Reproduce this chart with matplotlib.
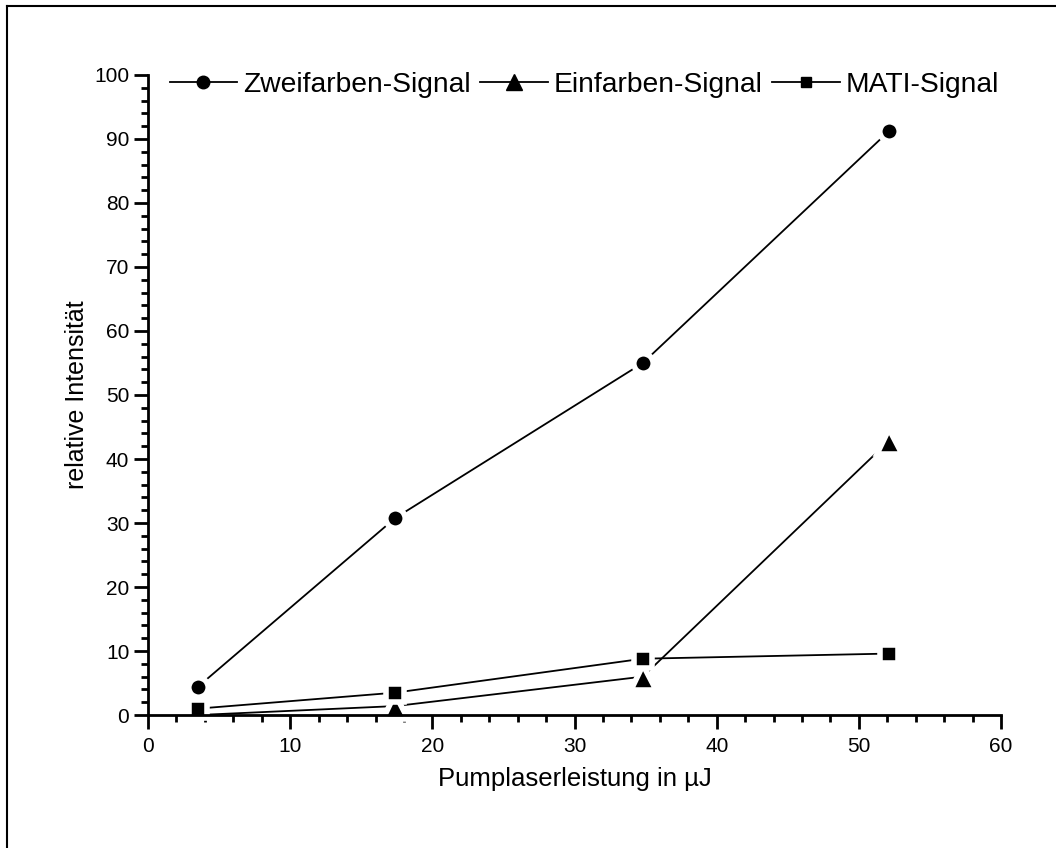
import matplotlib
matplotlib.use("Agg")
import matplotlib.pyplot as plt
from matplotlib.ticker import MultipleLocator
from matplotlib.lines import Line2D

plt.rcParams['font.family'] = ['Liberation Sans', 'DejaVu Sans']

x_vals = [3.5, 17.4, 34.8, 52.1]
zweifarben = [4.4, 30.8, 55.0, 91.2]
einfarben = [0.0, 1.4, 6.0, 42.8]
mati = [1.0, 3.5, 8.8, 9.6]
labels = ["Zweifarben-Signal", "Einfarben-Signal", "MATI-Signal"]

fig = plt.figure(figsize=(10.56, 8.48), dpi=100)
ax = fig.add_axes([0.1402, 0.1568, 0.8078, 0.7548])

styles = [
    (zweifarben, 'o', 10, 9, None),
    (einfarben, '^', 14, 12, [1, 2, 3]),
    (mati, 's', 8.5, 6.5, None),
]
handles = []
for (vals, m, ms, lms, every), lab in zip(styles, labels):
    ax.plot(x_vals, vals, color='black', lw=1.3, marker=m, ms=ms + 4,
            mfc='black', mec='white', mew=4, zorder=3, clip_on=False,
            markevery=every)
    handles.append(Line2D([], [], color='black', lw=1.3, marker=m, ms=lms,
                          mfc='black', mec='black'))

ax.set_xlim(0, 60)
ax.set_ylim(0, 100)
ax.xaxis.set_major_locator(MultipleLocator(10))
ax.xaxis.set_minor_locator(MultipleLocator(2))
ax.yaxis.set_major_locator(MultipleLocator(10))
ax.yaxis.set_minor_locator(MultipleLocator(2))
for s in ['top', 'right']:
    ax.spines[s].set_visible(False)
for s in ['left', 'bottom']:
    ax.spines[s].set_linewidth(2)
    ax.spines[s].set_zorder(4)
ax.tick_params(which='major', direction='out', length=10, width=2, labelsize=15)
ax.tick_params(which='minor', direction='out', length=5, width=2)
ax.tick_params(axis='x', which='major', pad=6)

ax.set_xlabel("Pumplaserleistung in µJ", fontsize=18.5, labelpad=8)
ax.set_ylabel("relative Intensität", fontsize=18, labelpad=4)

leg = ax.legend(handles, labels, loc='upper left', bbox_to_anchor=(0.012, 1.022),
                ncol=3, frameon=False, fontsize=20.3, handlelength=2.4,
                handletextpad=0.2, columnspacing=0.35, borderaxespad=0)

# figure border (top and left)
fig.add_artist(Line2D([7 / 1056, 1.0], [1 - 6 / 848, 1 - 6 / 848],
                      transform=fig.transFigure, color='black', lw=1.5))
fig.add_artist(Line2D([7 / 1056, 7 / 1056], [0.0, 1 - 6 / 848],
                      transform=fig.transFigure, color='black', lw=1.5))

fig.savefig("out.png", dpi=100)
